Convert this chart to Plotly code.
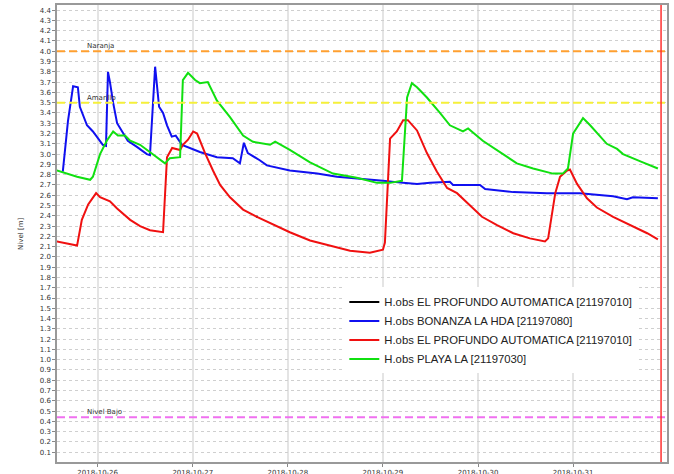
import pandas as pd
import plotly.graph_objects as go

# hours after 2018-10-26 00:00, level in metres
blue_hours = [-8.8, -7.5, -6.2, -5.0, -4.5, -2.7, -1.2, 0.6, 1.3, 2.1, 2.6, 3.1, 3.9, 4.9, 6.1,
              7.6, 9.9, 12.4, 13.2, 14.5, 15.5, 16.5, 17.5, 18.7, 19.7, 21.3, 25.8, 30.1, 34.1,
              35.9, 36.9, 37.9, 40.9, 42.7, 48.5, 55.4, 60.4, 66.9, 72.0, 77.1, 80.6, 83.9,
              88.9, 89.7, 96.5, 97.8, 104.9, 113.4, 121.7, 130.1, 133.6, 135.1, 141.4]
blue_level = [2.83, 3.32, 3.66, 3.65, 3.46, 3.28, 3.22, 3.12, 3.09, 3.08, 3.80, 3.70, 3.50, 3.30, 3.23,
              3.13, 3.07, 3.00, 2.99, 3.85, 3.46, 3.40, 3.28, 3.17, 3.18, 3.09, 3.02, 2.97, 2.96,
              2.91, 3.11, 3.01, 2.94, 2.89, 2.84, 2.81, 2.78, 2.76, 2.74, 2.72, 2.71, 2.72,
              2.73, 2.70, 2.70, 2.66, 2.63, 2.62, 2.62, 2.59, 2.56, 2.58, 2.57]

green_hours = [-10.3, -5.2, -1.9, -1.2, 0.6, 2.3, 3.9, 5.1, 6.9, 8.2, 10.7, 12.4, 15.0, 17.0, 18.2,
               20.8, 21.5, 22.8, 24.6, 25.8, 27.8, 30.1, 33.4, 36.7, 39.2, 43.5, 44.8, 48.5,
               53.6, 59.4, 65.4, 70.5, 73.8, 76.8, 78.1, 79.3, 80.6, 83.1, 86.4, 88.9, 92.2,
               93.5, 97.2, 101.5, 105.8, 109.9, 114.9, 117.4, 118.7, 120.0, 122.5, 124.3,
               128.5, 131.1, 132.6, 137.6, 141.4]
green_level = [2.84, 2.78, 2.75, 2.78, 3.00, 3.13, 3.22, 3.18, 3.18, 3.13, 3.09, 3.04, 2.97, 2.91, 2.96,
               2.97, 3.72, 3.79, 3.72, 3.69, 3.70, 3.52, 3.36, 3.18, 3.12, 3.09, 3.12, 3.04,
               2.92, 2.81, 2.77, 2.72, 2.72, 2.74, 3.55, 3.69, 3.65, 3.55, 3.40, 3.28, 3.22,
               3.25, 3.13, 3.02, 2.91, 2.86, 2.81, 2.81, 2.86, 3.20, 3.35, 3.28,
               3.10, 3.05, 3.00, 2.92, 2.86]

red_hours = [-10.3, -5.2, -4.0, -2.4, -0.4, 0.6, 3.1, 4.9, 8.2, 10.7, 13.2, 16.5, 17.5, 18.8, 20.8,
             21.5, 22.8, 24.1, 25.1, 27.1, 29.1, 30.9, 33.4, 36.7, 40.2, 43.5, 48.5, 53.6, 59.4,
             63.7, 68.7, 72.0, 72.5, 73.3, 73.8, 75.5, 77.1, 78.3, 80.6, 83.1, 85.6, 88.2,
             90.7, 94.0, 97.0, 100.8, 104.9, 109.1, 112.9, 113.7, 115.5, 116.7, 118.5, 119.2,
             121.0, 123.5, 126.0, 130.1, 134.4, 138.7, 141.4]
red_level = [2.15, 2.11, 2.36, 2.51, 2.62, 2.58, 2.54, 2.47, 2.36, 2.30, 2.26, 2.24, 2.97, 3.06, 3.04,
             3.09, 3.14, 3.22, 3.20, 3.01, 2.84, 2.70, 2.58, 2.46, 2.39, 2.33, 2.24, 2.16, 2.10,
             2.06, 2.04, 2.07, 2.14, 2.84, 3.15, 3.22, 3.33, 3.33, 3.23, 3.01, 2.83, 2.67,
             2.62, 2.50, 2.39, 2.31, 2.23, 2.18, 2.15, 2.18, 2.62, 2.78, 2.84, 2.85,
             2.71, 2.57, 2.48, 2.39, 2.31, 2.23, 2.17]

black_hours = [40.0, 40.4]
black_level = [2.39, 2.39]

thresholds = [("Naranja", 4.0, "#ffa030"), ("Amarillo", 3.5, "#f5f03a"), ("Nivel Bajo", 0.44, "#f070f0")]
day_ticks = ["2018-10-26", "2018-10-27", "2018-10-28", "2018-10-29", "2018-10-30", "2018-10-31"]
now_time = "2018-10-31 22:12"
x_start, x_end = "2018-10-25 13:44", "2018-10-31 23:42"

base = pd.Timestamp("2018-10-26")


def to_time(hours):
    return base + pd.to_timedelta(hours, unit="h")


fig = go.Figure()
series = [
    ("H.obs EL PROFUNDO AUTOMATICA [21197010]", black_hours, black_level, "black"),
    ("H.obs BONANZA LA HDA [21197080]", blue_hours, blue_level, "#1010f0"),
    ("H.obs EL PROFUNDO AUTOMATICA [21197010]", red_hours, red_level, "#f01010"),
    ("H.obs PLAYA LA [21197030]", green_hours, green_level, "#10e010"),
]
for name, hrs, lvl, color in series:
    fig.add_trace(go.Scatter(x=to_time(hrs), y=lvl, mode="lines", name=name,
                             line=dict(color=color, width=2)))

for label, level, color in thresholds:
    fig.add_shape(type="line", xref="paper", x0=0, x1=1, y0=level, y1=level,
                  line=dict(color=color, width=2, dash="8px,4px"))
    fig.add_annotation(x=0.046, y=level, xref="paper", text=label, showarrow=False,
                       xanchor="left", yanchor="bottom", yshift=-1,
                       font=dict(size=7, color="#333333"))

# current time marker
fig.add_shape(type="line", x0=now_time, x1=now_time, yref="paper", y0=0, y1=1,
              line=dict(color="#ff3030", width=1.5))

fig.add_annotation(x=-0.06, y=0.5, xref="paper", yref="paper", text="Nivel [m]",
                   xanchor="center", textangle=-90, showarrow=False,
                   font=dict(size=7, color="#333333"))

fig.update_layout(
    width=674, height=474,
    margin=dict(l=57, r=7, t=5, b=12),
    plot_bgcolor="white", paper_bgcolor="white",
    font=dict(family="DejaVu Sans", color="#333333"),
    showlegend=True,
    legend=dict(x=0.471, y=0.382, xanchor="left", yanchor="top", bgcolor="white",
                font=dict(family="Liberation Sans", size=11.3, color="#222222"),
                tracegroupgap=0, itemwidth=30),
)
fig.update_xaxes(
    range=[x_start, x_end], automargin=False,
    tickvals=day_ticks, ticktext=[d + "<br>00:00" for d in day_ticks],
    tickfont=dict(size=7), ticks="outside", ticklen=3, tickcolor="#888888",
    showgrid=True, gridcolor="#e4e4e4", gridwidth=2,
    showline=True, linecolor="#999999", linewidth=1.5, mirror=True,
)
fig.update_yaxes(
    range=[0.005, 4.45], tick0=0.1, dtick=0.1, tickformat=".1f", automargin=False,
    tickfont=dict(size=7), ticks="outside", ticklen=3, tickcolor="#888888",
    showgrid=True, gridcolor="#cfcfcf", gridwidth=1, griddash="dot",
    showline=True, linecolor="#999999", linewidth=1.5, mirror=True, zeroline=False,
)

fig.write_html("out.html", config={"displayModeBar": False},
               post_script="document.body.style.margin = '0';")
